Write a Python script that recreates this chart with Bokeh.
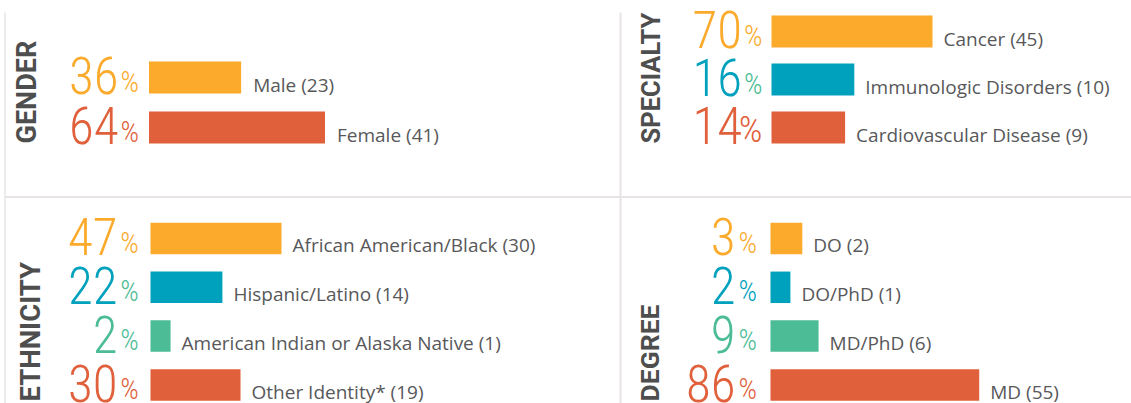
import math
from bokeh.plotting import figure
from bokeh.models import Range1d, ColumnDataSource
from bokeh.core.properties import value
from bokeh.embed import file_html
from bokeh.resources import INLINE

# ---------------- data ----------------
gender_labels = ["Male", "Female"]
gender_counts = [23, 41]
gender_pct = [36, 64]
gender_bar = [33.5, 64]          # bar length as drawn (in % units of the panel)

specialty_labels = ["Cancer", "Immunologic Disorders", "Cardiovascular Disease"]
specialty_counts = [45, 10, 9]
specialty_pct = [70, 16, 14]
specialty_bar = [70, 36, 32]

ethnicity_labels = ["African American/Black", "Hispanic/Latino",
                    "American Indian or Alaska Native", "Other Identity*"]
ethnicity_counts = [30, 14, 1, 19]
ethnicity_pct = [47, 22, 2, 30]
ethnicity_bar = [47, 25.8, 7.2, 32.3]

degree_labels = ["DO", "DO/PhD", "MD/PhD", "MD"]
degree_counts = [2, 1, 6, 55]
degree_pct = [3, 2, 9, 86]
degree_bar = [13.1, 8.2, 19.8, 86]

# ---------------- style ----------------
ORANGE = "#FBAA2B"
TEAL = "#00A1BD"
GREEN = "#4BBC95"
RED = "#E0603B"
TXT = "#58585A"
TITLE = "#4E4E4E"
LINE = "#E8E4E5"
NUM_FONT = "Roboto Condensed Light, Liberation Sans Narrow, Roboto Light"
LAB_FONT = "Open Sans"
NUM_SIZE = 51
LAB_SIZE = 19


def lift(size):
    # compensation of the renderer's baseline placement (screen px)
    return -(3.8 + 0.27 * size)


W, H = 1131, 403

p = figure(width=W, height=H, output_backend="svg", toolbar_location=None,
           x_range=Range1d(0, W), y_range=Range1d(H, 0),
           x_axis_location=None, y_axis_location=None, min_border=0)
p.outline_line_color = None
p.xgrid.visible = False
p.ygrid.visible = False
p.background_fill_color = "white"
p.border_fill_color = "white"

# divider lines
p.segment(x0=[4.5, 620, 5], y0=[12, 12, 196.5], x1=[4.5, 620, W], y1=[H, H, 196.5],
          line_color=LINE, line_width=[1.5, 2, 2])

panels = [
    dict(name="g", title="GENDER", tsize=27, tx=38, ty=143, labels=gender_labels, counts=gender_counts,
         pct=gender_pct, bar=gender_bar, colors=[ORANGE, RED], pcolors=[ORANGE, RED],
         psize=[29, 29], x0=148.5, scale=2.75, row0=77, pitch=50, bh=32,
         gap=10, dgap=30.5, lgap=12),
    dict(name="s", title="SPECIALTY", tsize=25.5, tx=661, ty=143, labels=specialty_labels,
         counts=specialty_counts, pct=specialty_pct, bar=specialty_bar,
         colors=[ORANGE, TEAL, RED], pcolors=[ORANGE, GREEN, RED],
         psize=[29, 29, 37], x0=771, scale=2.3, row0=31, pitch=48, bh=32,
         gap=9, dgap=29.5, lgap=11),
    dict(name="e", title="ETHNICITY", tsize=27.5, tx=41, ty=401, labels=ethnicity_labels,
         counts=ethnicity_counts, pct=ethnicity_pct, bar=ethnicity_bar,
         colors=[ORANGE, TEAL, GREEN, RED], pcolors=[ORANGE, GREEN, GREEN, RED], psize=[29] * 4,
         x0=150, scale=2.787, row0=238, pitch=48.8, bh=31.5, gap=11.7, dgap=33, lgap=11),
    dict(name="d", title="DEGREE", tsize=26.5, tx=660, ty=401, labels=degree_labels,
         counts=degree_counts, pct=degree_pct, bar=degree_bar,
         colors=[ORANGE, TEAL, GREEN, RED], pcolors=[ORANGE, TEAL, GREEN, RED], psize=[29] * 4,
         x0=770, scale=2.427, row0=238, pitch=48.8, bh=31.5, gap=13.5, dgap=35, lgap=11),
]

for pn in panels:
    xr, yr = pn["name"] + "x", pn["name"] + "y"
    s = pn["scale"]
    p.extra_x_ranges[xr] = Range1d(-pn["x0"] / s, (W - pn["x0"]) / s)
    p.extra_y_ranges[yr] = Range1d((H - pn["row0"]) / pn["pitch"], -pn["row0"] / pn["pitch"])
    n = len(pn["labels"])
    h = pn["bh"] / pn["pitch"]
    src = ColumnDataSource(dict(
        y=list(range(n)),
        yb=[i + h / 2 for i in range(n)],
        bar=pn["bar"],
        color=pn["colors"],
        pcolor=pn["pcolors"],
        psize=[f"{v}px" for v in pn["psize"]],
        plift=[lift(v) for v in pn["psize"]],
        num=[str(v) for v in pn["pct"]],
        sign=["%"] * n,
        lab=[f"{l} ({c})" for l, c in zip(pn["labels"], pn["counts"])],
    ))
    kw = dict(source=src, x_range_name=xr, y_range_name=yr)
    p.hbar(y="y", left=0, right="bar", height=h, fill_color="color", line_color=None, **kw)
    p.text(x=0, y="yb", text="num", text_color="color", text_align="right",
           text_baseline="alphabetic", x_offset=-pn["dgap"], y_offset=lift(NUM_SIZE),
           text_font=value(NUM_FONT), text_font_size=f"{NUM_SIZE}px", **kw)
    p.text(x=0, y="yb", text="sign", text_color="pcolor", text_align="right",
           text_baseline="alphabetic", x_offset=-pn["gap"], y_offset="plift",
           text_font=value(NUM_FONT), text_font_size="psize", **kw)
    p.text(x="bar", y="yb", text="lab", text_color=TXT, text_align="left",
           text_baseline="alphabetic", x_offset=pn["lgap"], y_offset=lift(LAB_SIZE),
           text_font=value(LAB_FONT), text_font_size=f"{LAB_SIZE}px", **kw)
    p.text(x=[pn["tx"]], y=[pn["ty"]], text=[pn["title"]], angle=math.pi / 2,
           x_offset=lift(pn["tsize"]),
           text_color=TITLE, text_align="left", text_baseline="alphabetic",
           text_font=value("Roboto"), text_font_style="bold", text_font_size=f"{pn['tsize']}px")

open("out.html", "w").write(file_html(p, INLINE))
